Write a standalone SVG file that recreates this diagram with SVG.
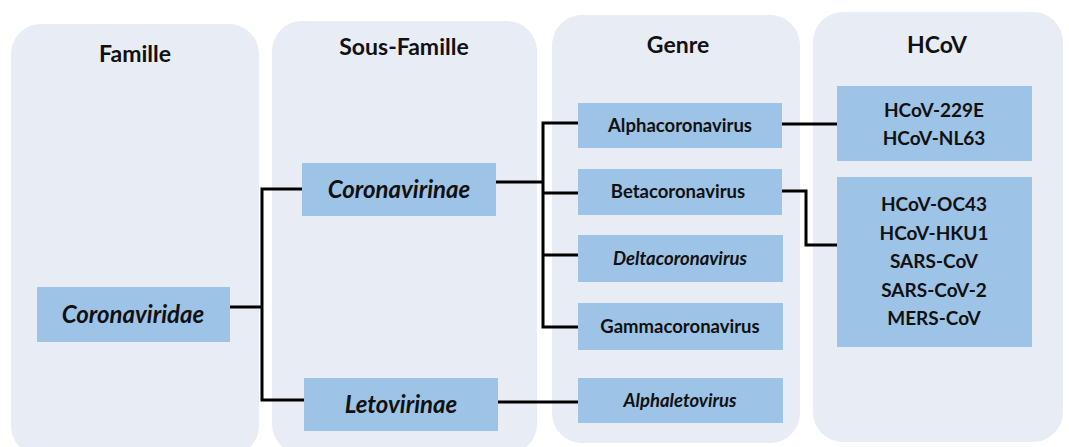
<svg xmlns="http://www.w3.org/2000/svg" width="1069" height="447" viewBox="0 0 1069 447">
<style>
.panel{fill:#e8ecf5;}
.box{fill:#9dc3e6;}
.h{font-family:Lato,"Liberation Sans",sans-serif;font-weight:bold;font-size:23px;fill:#111;text-anchor:middle;}
.t{font-family:Lato,"Liberation Sans",sans-serif;font-weight:bold;font-size:18.5px;fill:#111;text-anchor:middle;}
.ti{font-family:Lato,"Liberation Sans",sans-serif;font-weight:bold;font-style:italic;font-size:18.5px;fill:#111;text-anchor:middle;}
.tl{font-family:Lato,"Liberation Sans",sans-serif;font-weight:bold;font-style:italic;font-size:24px;fill:#111;text-anchor:middle;}
.hc{font-family:Lato,"Liberation Sans",sans-serif;font-weight:bold;font-size:19px;fill:#111;text-anchor:middle;}
.c{fill:none;stroke:#000;stroke-width:3;}
</style>
<rect width="1069" height="447" fill="#fff"/>
<g id="panels">
<rect class="panel" x="11" y="24" width="248" height="432" rx="30"/>
<rect class="panel" x="272" y="21" width="265" height="433" rx="30"/>
<rect class="panel" x="552" y="15" width="248" height="428" rx="30"/>
<rect class="panel" x="813" y="12" width="250" height="430" rx="30"/>
<text class="h" x="135" y="62">Famille</text>
<text class="h" x="404" y="55">Sous-Famille</text>
<text class="h" x="678" y="53">Genre</text>
<text class="h" x="937" y="53">HCoV</text>
</g>
<g id="connectors">
<polyline class="c" points="230,307 262,307"/>
<polyline class="c" points="302,189 262,189 262,400 304,400"/>
<polyline class="c" points="496,182 543,182"/>
<polyline class="c" points="578,123 543,123 543,327 578,327"/>
<polyline class="c" points="543,193 578,193"/>
<polyline class="c" points="543,255 578,255"/>
<polyline class="c" points="782,124 837,124"/>
<polyline class="c" points="782,191 806,191 806,245 837,245"/>
<polyline class="c" points="498,402 578,402"/>
</g>
<g id="coronaviridae"><rect class="box" x="37" y="287" width="193" height="55"/><text class="tl" x="133" y="323">Coronaviridae</text></g>
<g id="coronavirinae"><rect class="box" x="302" y="163" width="194" height="53"/><text class="tl" x="399" y="198">Coronavirinae</text></g>
<g id="letovirinae"><rect class="box" x="304" y="378" width="194" height="53"/><text class="tl" x="401" y="413">Letovirinae</text></g>
<g id="alphacoronavirus"><rect class="box" x="578" y="103" width="204" height="45"/><text class="t" x="680" y="132">Alphacoronavirus</text></g>
<g id="betacoronavirus"><rect class="box" x="578" y="169" width="204" height="46"/><text class="t" x="678" y="198">Betacoronavirus</text></g>
<g id="deltacoronavirus"><rect class="box" x="578" y="235" width="205" height="47"/><text class="ti" x="680" y="265">Deltacoronavirus</text></g>
<g id="gammacoronavirus"><rect class="box" x="578" y="303" width="205" height="47"/><text class="t" x="680" y="333">Gammacoronavirus</text></g>
<g id="alphaletovirus"><rect class="box" x="578" y="378" width="205" height="45"/><text class="ti" x="680" y="407">Alphaletovirus</text></g>
<g id="hcov-alpha"><rect class="box" x="837" y="86" width="195" height="75"/>
<text class="hc" x="934" y="117">HCoV-229E</text><text class="hc" x="934" y="145">HCoV-NL63</text></g>
<g id="hcov-beta"><rect class="box" x="837" y="177" width="195" height="170"/>
<text class="hc" x="934" y="211">HCoV-OC43</text><text class="hc" x="934" y="240">HCoV-HKU1</text><text class="hc" x="934" y="268">SARS-CoV</text><text class="hc" x="934" y="297">SARS-CoV-2</text><text class="hc" x="934" y="325">MERS-CoV</text></g>
</svg>
